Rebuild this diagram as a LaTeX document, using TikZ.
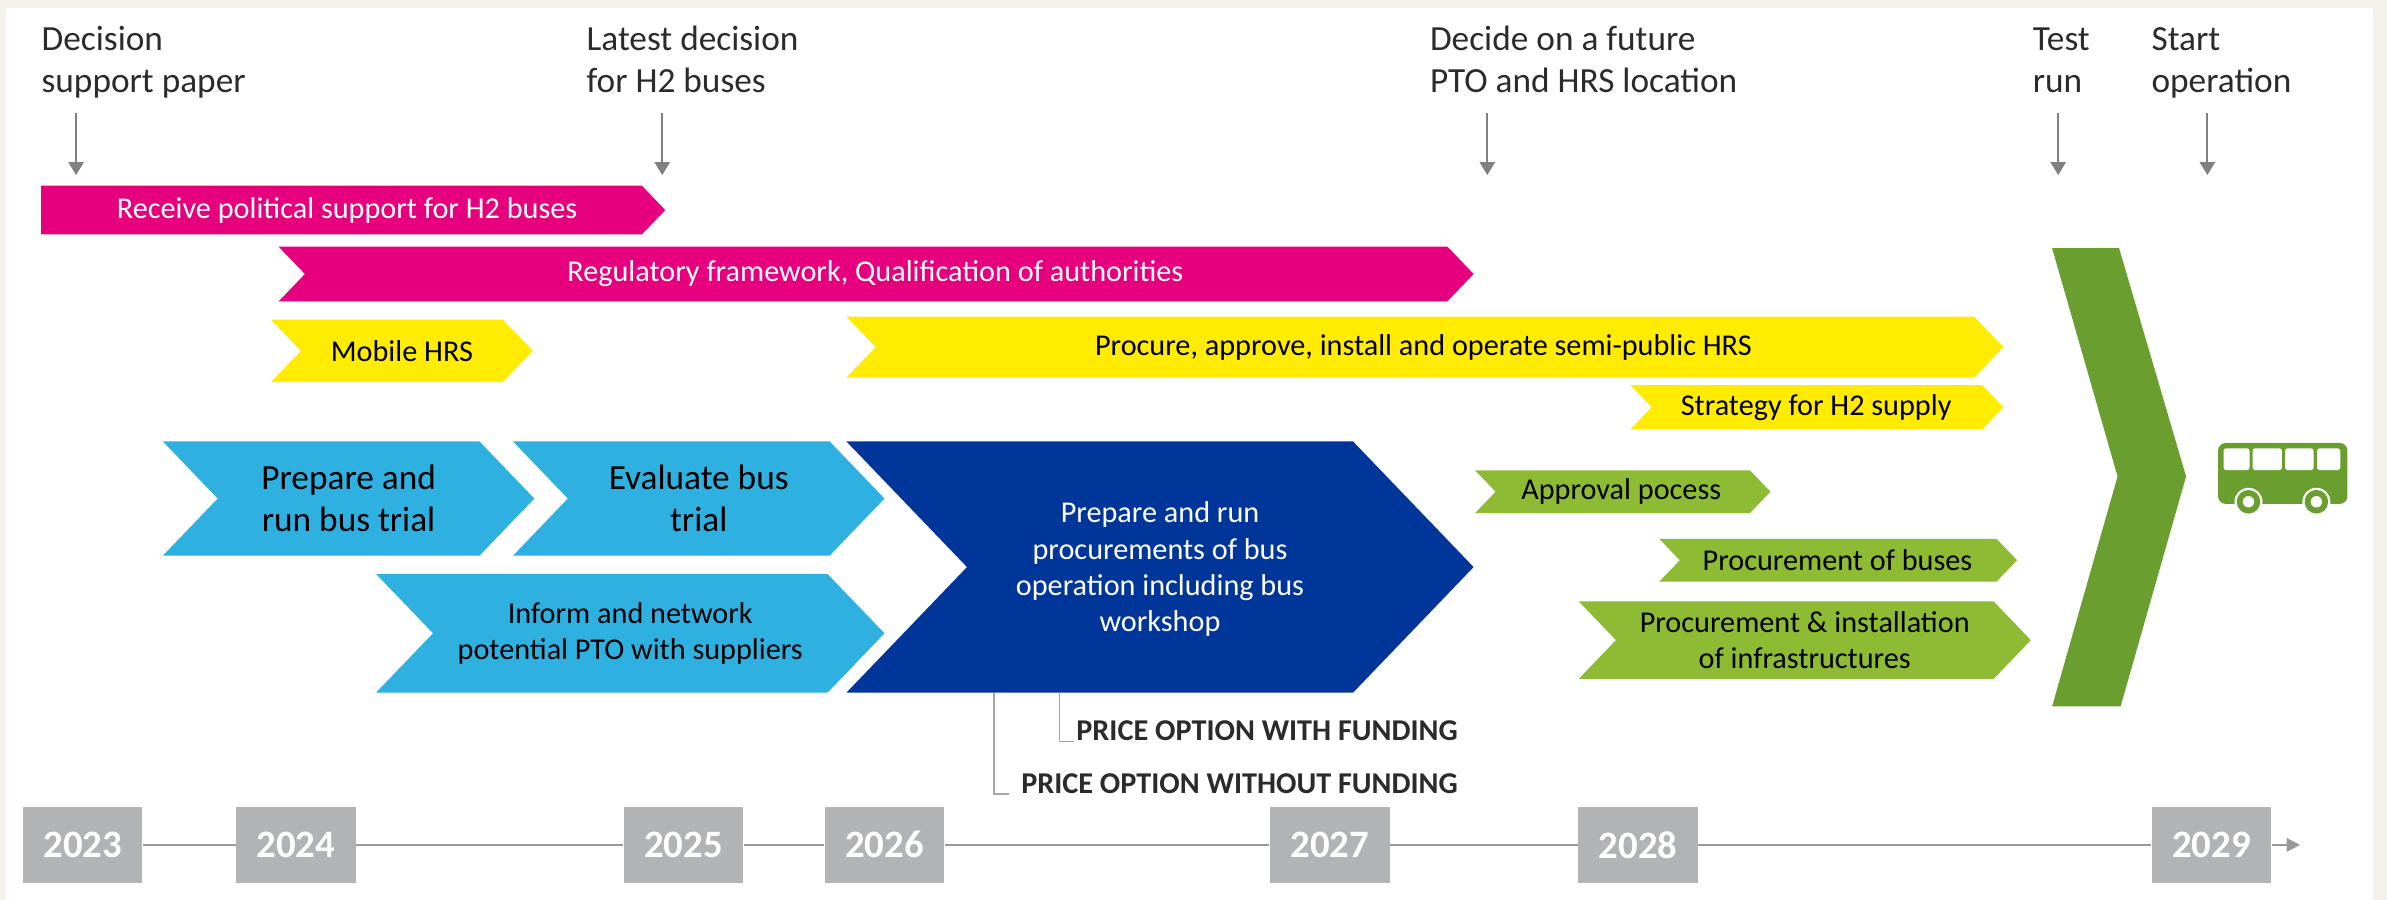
\documentclass[tikz,border=0pt]{standalone}
\usepackage{fontspec}
\setmainfont{Carlito}
\usetikzlibrary{arrows.meta}
\definecolor{bgbeige}{HTML}{F4F0EA}
\definecolor{magenta}{HTML}{E6007E}
\definecolor{hryellow}{HTML}{FFEC00}
\definecolor{lightblue}{HTML}{2EB0E0}
\definecolor{darkblue}{HTML}{00369A}
\definecolor{lightgreen}{HTML}{8DBB33}
\definecolor{darkgreen}{HTML}{6A9F2F}
\definecolor{yeargrey}{HTML}{B2B3B5}
\definecolor{arrowgrey}{HTML}{808080}
\definecolor{labelgrey}{HTML}{2B2B2B}
% chevron bar: colour, left x, tip x, top y, bottom y, notch (0 or 1)
\newcommand{\chev}[6]{%
  \fill[#1] (#2,#4) -- ({#3-0.48*(#5-#4)},#4) -- (#3,{(#4+#5)/2})
    -- ({#3-0.48*(#5-#4)},#5) -- (#2,#5) -- ({#2+#6*0.48*(#5-#4)},{(#4+#5)/2}) -- cycle;}
\begin{document}
\begin{tikzpicture}[x=0.02cm,y=-0.02cm,
  toplabel/.style={anchor=base west,align=left,inner sep=0pt,text=labelgrey,font=\fontsize{13.2}{15.6}\selectfont},
  bartext/.style={align=center,inner sep=0pt,text=black,font=\fontsize{11.3}{13.6}\selectfont},
  bigtext/.style={align=center,inner sep=0pt,text=black,font=\fontsize{13.2}{15.6}\selectfont},
  pricetext/.style={anchor=east,inner sep=0pt,text=labelgrey,font=\bfseries\fontsize{11.3}{13.6}\selectfont},
  priceline/.style={draw=arrowgrey!70,line width=0.5pt},
  milestone/.style={draw=arrowgrey,line width=0.7pt,-{Triangle[width=0.2cm,length=0.17cm]}},
  yearbox/.style={fill=yeargrey,text=white,inner sep=0pt,minimum width=1.57cm,minimum height=1cm,font=\bfseries\fontsize{14.5}{17}\selectfont},
  timeline/.style={draw=arrowgrey!80,line width=0.9pt}]
  \fill[bgbeige] (0,0) rectangle (1568,591);
  \fill[white] (4,5) rectangle (1559,591);
  \useasboundingbox (0,0) rectangle (1568,591);

  % milestones (base = last line)
  \node[toplabel] (dsp) at (27,60.5) {Decision\\support paper};
  \node[toplabel] (latest) at (385,60.5) {Latest decision\\for H2 buses};
  \node[toplabel] (future) at (939,60.5) {Decide on a future\\PTO and HRS location};
  \node[toplabel] (test) at (1335,60.5) {Test\\run};
  \node[toplabel] (start) at (1413,60.5) {Start\\operation};
  \foreach \x in {50,435,977,1352,1450}
    \draw[milestone] (\x,74) -- (\x,115);

  % bars
  \chev{magenta}{27}{437}{122}{154}{0}
  \chev{magenta}{183}{968}{162}{198}{1}
  \chev{hryellow}{178}{350}{210}{251}{1}
  \chev{hryellow}{556}{1316}{208}{248}{1}
  \chev{hryellow}{1071}{1316}{253}{282}{1}
  \chev{lightblue}{107}{351}{290}{365}{1}
  \chev{lightblue}{337}{581}{290}{365}{1}
  \chev{lightblue}{247}{581}{377}{455}{1}
  \chev{darkblue}{556}{968}{290}{455}{1}
  \chev{lightgreen}{969}{1163}{309}{337}{1}
  \chev{lightgreen}{1090}{1325}{354}{382}{1}
  \chev{lightgreen}{1037}{1334}{395}{446}{1}
  \fill[darkgreen] (1348,163) -- (1392,163) -- (1436,313) -- (1393,464) -- (1348,464) -- (1391,313) -- cycle;

  \node[bartext,text=white] (political) at (228,138) {Receive political support for H2 buses};
  \node[bartext,text=white] (regulatory) at (575,180) {Regulatory framework, Qualification of authorities};
  \node[bartext] (mobile) at (264,230.5) {Mobile HRS};
  \node[bartext] (semipublic) at (935,228) {Procure, approve, install and operate semi-public HRS};
  \node[bartext] (supply) at (1193,267.5) {Strategy for H2 supply};
  \node[bigtext] (trial) at (229,327.5) {Prepare and\\run bus trial};
  \node[bigtext] (evaluate) at (459,327.5) {Evaluate bus\\trial};
  \node[bartext] (inform) at (414,416) {Inform and network\\potential PTO with suppliers};
  \node[bartext,text=white] (tender) at (762,374) {Prepare and run\\procurements of bus\\operation including bus\\workshop};
  \node[bartext] (approval) at (1065,323) {Approval pocess};
  \node[bartext] (buses) at (1207,368) {Procurement of buses};
  \node[bartext] (infra) at (1185.5,420.5) {Procurement \& installation\\of infrastructures};

  % bus
  \fill[darkgreen,rounded corners=0.1cm] (1457,291) rectangle (1542,331);
  \foreach \a/\b in {1460.6/1477.7,1479.7/1499,1501/1519.8,1522/1537.3}
    \fill[white,rounded corners=1pt] (\a,294.5) rectangle (\b,308.8);
  \foreach \x in {1477,1521.6} {
    \fill[white] (\x,329.6) circle [radius=0.184cm];
    \fill[darkgreen] (\x,329.6) circle [radius=0.155cm];
    \fill[white] (\x,329.6) circle [radius=0.075cm];
  }

  % price options
  \node[pricetext] (pwith) at (958,480) {PRICE OPTION WITH FUNDING};
  \node[pricetext] (pwithout) at (958,514.6) {PRICE OPTION WITHOUT FUNDING};
  \coordinate (c1) at (696,455);
  \coordinate (c2) at (653,455);
  \draw[priceline] (c1) |- ([xshift=-0.03cm]pwith.south west);
  \draw[priceline] (c2) |- ([xshift=-0.16cm]pwithout.south west);

  % timeline
  \foreach \yr/\x in {2023/54.3,2024/194.3,2025/449,2026/581,2027/873.5,2028/1076,2029/1452.7}
    \node[yearbox] (y\yr) at (\x,555) {\yr};
  \foreach \a/\b in {2023/2024,2024/2025,2025/2026,2026/2027,2027/2028,2028/2029}
    \draw[timeline] (y\a.east) -- (y\b.west);
  \coordinate (tend) at (1511,555);
  \draw[timeline,-{Triangle[width=0.175cm,length=0.18cm]}] (y2029.east) -- (tend);
\end{tikzpicture}
\end{document}
